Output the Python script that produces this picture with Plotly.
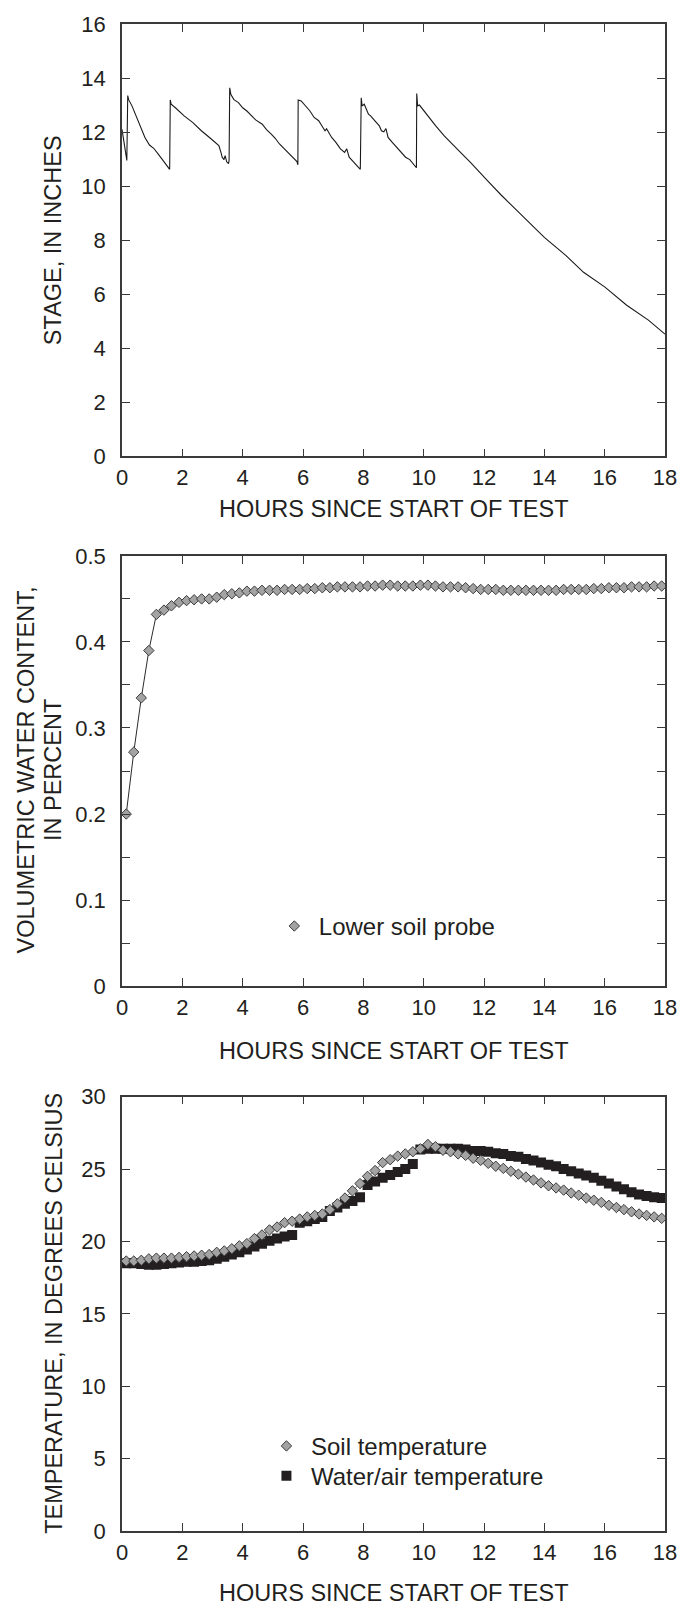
import plotly.graph_objects as go

# ---------------- data ----------------
# Panel 1: stage (inches) vs hours
stage_hours = [0.00, 0.05, 0.10, 0.13, 0.16, 0.19, 0.22, 0.33, 0.47, 0.62, 0.76, 0.91, 1.05, 1.19, 1.34, 1.48, 1.58,
               1.60, 1.63, 1.77, 2.06, 2.35, 2.63, 2.92, 3.21, 3.28, 3.32, 3.38, 3.42, 3.47, 3.53, 3.55,
               3.57, 3.61, 3.71, 3.86, 4.00, 4.14, 4.29, 4.43, 4.65, 4.79, 4.94, 5.08, 5.22, 5.37, 5.51, 5.65, 5.80, 5.83,
               5.84, 5.94, 6.09, 6.23, 6.37, 6.52, 6.66, 6.73, 6.78, 6.95, 7.09, 7.24, 7.38, 7.45, 7.53, 7.67, 7.81, 7.90,
               7.93, 7.96, 8.03, 8.10, 8.17, 8.24, 8.39, 8.53, 8.60, 8.68, 8.75, 8.82, 8.96, 9.11, 9.25, 9.40, 9.54, 9.68, 9.76,
               9.77, 9.80, 9.86, 9.97, 10.11, 10.40, 10.69, 10.98, 11.27, 11.55, 11.84, 12.13, 12.56, 13.28, 14.00,
               14.72, 15.30, 16.01, 16.73, 17.45, 18.00]
stage_in = [12.10, 11.70, 11.40, 11.05, 10.95, 13.35, 13.20, 12.97, 12.60, 12.17, 11.80, 11.52, 11.40, 11.20, 10.98, 10.79, 10.62,
            13.19, 13.03, 12.90, 12.60, 12.35, 12.05, 11.78, 11.50, 11.25, 11.07, 10.98, 11.13, 10.90, 10.83, 10.95,
            13.64, 13.39, 13.20, 13.09, 12.90, 12.78, 12.60, 12.45, 12.29, 12.09, 11.93, 11.77, 11.56, 11.40, 11.25, 11.07, 10.91, 10.79,
            13.19, 13.15, 12.97, 12.78, 12.54, 12.42, 12.17, 12.05, 12.12, 11.80, 11.62, 11.38, 11.25, 11.38, 11.07, 10.89, 10.70, 10.62,
            13.27, 12.97, 13.03, 12.84, 12.66, 12.60, 12.42, 12.23, 12.05, 12.01, 12.13, 11.80, 11.62, 11.44, 11.25, 11.07, 10.98, 10.79, 10.68,
            13.43, 12.97, 13.00, 12.84, 12.66, 12.23, 11.85, 11.50, 11.19, 10.88, 10.52, 10.18, 9.68, 8.90, 8.10,
            7.43, 6.81, 6.26, 5.59, 5.04, 4.52]

# Panels 2 and 3: readings every 15 minutes
hours = [0.14, 0.39, 0.64, 0.89, 1.14, 1.39, 1.64, 1.89, 2.14, 2.39, 2.64, 2.89,
         3.14, 3.39, 3.64, 3.89, 4.14, 4.39, 4.64, 4.89, 5.14, 5.39, 5.64, 5.89,
         6.14, 6.39, 6.64, 6.89, 7.14, 7.39, 7.64, 7.89, 8.14, 8.39, 8.64, 8.89,
         9.14, 9.39, 9.64, 9.89, 10.14, 10.39, 10.64, 10.89, 11.14, 11.39, 11.64, 11.89,
         12.14, 12.39, 12.64, 12.89, 13.14, 13.39, 13.64, 13.89, 14.14, 14.39, 14.64, 14.89,
         15.14, 15.39, 15.64, 15.89, 16.14, 16.39, 16.64, 16.89, 17.14, 17.39, 17.64, 17.89]

water_content = [0.200, 0.272, 0.335, 0.390, 0.432, 0.437, 0.442, 0.446, 0.448, 0.449, 0.450, 0.450,
                 0.452, 0.455, 0.456, 0.457, 0.459, 0.459, 0.460, 0.460, 0.460, 0.461, 0.461, 0.461,
                 0.462, 0.462, 0.463, 0.463, 0.464, 0.464, 0.464, 0.464, 0.465, 0.465, 0.466, 0.466,
                 0.465, 0.465, 0.465, 0.466, 0.466, 0.465, 0.464, 0.464, 0.464, 0.463, 0.462, 0.461,
                 0.461, 0.461, 0.460, 0.460, 0.460, 0.460, 0.460, 0.460, 0.460, 0.460, 0.461, 0.461,
                 0.461, 0.461, 0.462, 0.462, 0.463, 0.463, 0.463, 0.464, 0.464, 0.464, 0.465, 0.465]

soil_temp = [18.65, 18.65, 18.70, 18.80, 18.85, 18.85, 18.85, 18.90, 18.95, 19.00, 19.05, 19.10,
             19.25, 19.35, 19.50, 19.70, 19.85, 20.20, 20.45, 20.80, 21.00, 21.30, 21.40, 21.55,
             21.70, 21.80, 21.90, 22.20, 22.60, 23.00, 23.50, 24.00, 24.50, 24.90, 25.45, 25.65,
             25.90, 26.05, 26.20, 26.40, 26.70, 26.55, 26.30, 26.20, 26.05, 25.95, 25.75, 25.60,
             25.40, 25.20, 25.05, 24.85, 24.65, 24.45, 24.25, 24.05, 23.85, 23.70, 23.55, 23.35,
             23.20, 23.00, 22.85, 22.70, 22.50, 22.35, 22.20, 22.05, 21.90, 21.80, 21.70, 21.60]

water_air_temp = [18.50, 18.50, 18.45, 18.40, 18.40, 18.45, 18.50, 18.55, 18.60, 18.60, 18.65, 18.70,
                  18.80, 18.95, 19.10, 19.25, 19.45, 19.65, 19.85, 20.05, 20.20, 20.35, 20.45, 21.30,
                  21.40, 21.55, 21.70, 22.10, 22.35, 22.60, 22.80, 23.05, 23.90, 24.15, 24.40, 24.60,
                  24.80, 25.00, 25.35, 26.35, 26.40, 26.40, 26.40, 26.40, 26.40, 26.35, 26.25, 26.25,
                  26.20, 26.10, 26.05, 25.90, 25.85, 25.70, 25.60, 25.45, 25.30, 25.20, 25.00, 24.85,
                  24.70, 24.55, 24.40, 24.20, 24.00, 23.80, 23.60, 23.40, 23.25, 23.15, 23.05, 23.00]

x_ticks = [0, 2, 4, 6, 8, 10, 12, 14, 16, 18]

# ---------------- layout helpers ----------------
W, H = 689, 1608
ML, MR, MT, MB = 122, 16, 18, 77
PW = W - ML - MR
PH = H - MT - MB


def py(y_px):
    return (H - MB - y_px) / PH


def px(x_px):
    return (x_px - ML) / PW


FONT = "Liberation Sans, Arial, Helvetica, sans-serif"
TXT = "#231f20"
AX = "#3a3a3a"
DIA_FILL = "#a3a3a3"
DIA_LINE = "#3a3a3a"
LEG_W = 39

fig = go.Figure()

fig.add_trace(go.Scatter(x=stage_hours, y=stage_in, mode="lines",
                         line=dict(color="#1a1a1a", width=1.1),
                         xaxis="x", yaxis="y", showlegend=False))

fig.add_trace(go.Scatter(x=hours, y=water_content, mode="lines",
                         line=dict(color="#2a2a2a", width=1),
                         xaxis="x2", yaxis="y2", showlegend=False))
fig.add_trace(go.Scatter(x=hours, y=water_content, mode="markers", name="Lower soil probe",
                         marker=dict(symbol="diamond", size=8, color=DIA_FILL,
                                     line=dict(color=DIA_LINE, width=1)),
                         xaxis="x2", yaxis="y2", legend="legend"))

fig.add_trace(go.Scatter(x=hours, y=water_air_temp, mode="markers", name="Water/air temperature",
                         marker=dict(symbol="square", size=10, color="#231f20",
                                     line=dict(width=0)),
                         xaxis="x3", yaxis="y3", legend="legend3"))
fig.add_trace(go.Scatter(x=hours, y=soil_temp, mode="lines",
                         line=dict(color="#555555", width=0.8),
                         xaxis="x3", yaxis="y3", showlegend=False))
fig.add_trace(go.Scatter(x=hours, y=soil_temp, mode="markers", name="Soil temperature",
                         marker=dict(symbol="diamond", size=8, color=DIA_FILL,
                                     line=dict(color=DIA_LINE, width=1)),
                         xaxis="x3", yaxis="y3", legend="legend2"))

common_axis = dict(showline=True, linecolor=AX, linewidth=1.5, mirror="ticks",
                   ticks="inside", ticklen=8, tickwidth=1.2, tickcolor=AX,
                   showgrid=False, zeroline=False,
                   tickfont=dict(family=FONT, size=22, color=TXT))

xdom = [0, 1]
doms = [[py(452), py(18)], [py(984), py(552)], [py(1531), py(1095)]]

leg_font = dict(family=FONT, size=24, color=TXT)


def leg(xc, yc):
    return dict(x=px(xc - 25), y=py(yc), xanchor="left", yanchor="middle",
                bgcolor="rgba(0,0,0,0)", itemwidth=LEG_W, font=leg_font)


layout = dict(
    width=W, height=H,
    margin=dict(l=ML, r=MR, t=MT, b=MB),
    paper_bgcolor="white", plot_bgcolor="white",
    font=dict(family=FONT, size=22, color=TXT),
    legend=leg(297, 924),
    legend2=leg(289, 1446),
    legend3=leg(289, 1476),
)
for i, (dom, yr, dt) in enumerate(zip(doms, [[0, 16], [0, 0.5], [0, 30]], [2, 0.1, 5])):
    sx = "" if i == 0 else str(i + 1)
    xa = dict(common_axis, domain=xdom, range=[0, 18], tickvals=x_ticks,
              anchor="y" + sx, ticklabelstandoff=1)
    ya = dict(common_axis, domain=dom, range=yr, dtick=dt, tick0=0,
              anchor="x" + sx, ticklabelstandoff=10)
    if i == 1:
        ya["minor"] = dict(dtick=0.05, ticks="inside", ticklen=8, tickwidth=1.2, tickcolor=AX)
        ya["tickvals"] = [0, 0.1, 0.2, 0.3, 0.4, 0.5]
        ya["ticktext"] = ["0", "0.1", "0.2", "0.3", "0.4", "0.5"]
    layout["xaxis" + sx] = xa
    layout["yaxis" + sx] = ya

fig.update_layout(**layout)

title_font = dict(family=FONT, size=23.5, color=TXT)
ann = []
for yc in [505, 1049, 1593]:
    ann.append(dict(text="HOURS SINCE START OF TEST", x=0.5, y=py(yc), xref="paper", yref="paper",
                    xanchor="center", yanchor="middle", showarrow=False, font=title_font))
ann.append(dict(text="STAGE, IN INCHES", x=px(52), y=py(235), xref="paper", yref="paper",
                textangle=-90, xanchor="center", yanchor="middle", showarrow=False, font=title_font))
ann.append(dict(text="VOLUMETRIC WATER CONTENT,", x=px(25), y=py(767), xref="paper", yref="paper",
                textangle=-90, xanchor="center", yanchor="middle", showarrow=False, font=title_font))
ann.append(dict(text="IN PERCENT", x=px(52), y=py(767), xref="paper", yref="paper",
                textangle=-90, xanchor="center", yanchor="middle", showarrow=False, font=title_font))
ann.append(dict(text="TEMPERATURE, IN DEGREES CELSIUS", x=px(53), y=py(1313), xref="paper", yref="paper",
                textangle=-90, xanchor="center", yanchor="middle", showarrow=False, font=title_font))
fig.update_layout(annotations=ann)

fig.write_html("out.html")
